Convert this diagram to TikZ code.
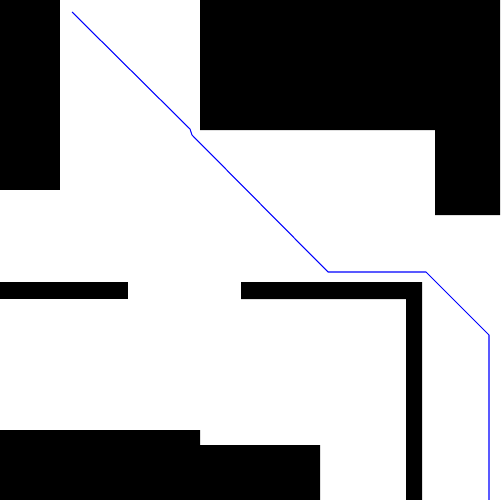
\documentclass[tikz,border=0pt]{standalone}
\usepackage{tikz}
\tikzset{
  wall/.style ={fill=black,draw=none},
  route/.style={draw=blue,line width=0.6pt,line join=miter},
}
\begin{document}
\begin{tikzpicture}[x=0.02cm,y=-0.02cm]
  \useasboundingbox (0,0) rectangle (500,500);
  % obstacles
  \fill[wall] (0,0) rectangle (60,190);
  \fill[wall] (200,0) -- (500,0) -- (500,215) -- (435,215) -- (435,130) -- (200,130) -- cycle;
  \fill[wall] (0,282) rectangle (128,299);
  \fill[wall] (241,282) -- (422,282) -- (422,500) -- (406,500) -- (406,299) -- (241,299) -- cycle;
  \fill[wall] (0,430) -- (200,430) -- (200,445) -- (320,445) -- (320,500) -- (0,500) -- cycle;
  % path
  \coordinate (start) at (72,12);
  \coordinate (k1) at (190,129);
  \coordinate (k2) at (192,135);
  \coordinate (k3) at (328,272);
  \coordinate (k4) at (426,272);
  \coordinate (k5) at (489,335);
  \coordinate (goal) at (489,500);
  \draw[route] (start) -- (k1) -- (k2) -- (k3) -- (k4) -- (k5) -- (goal);
\end{tikzpicture}
\end{document}
